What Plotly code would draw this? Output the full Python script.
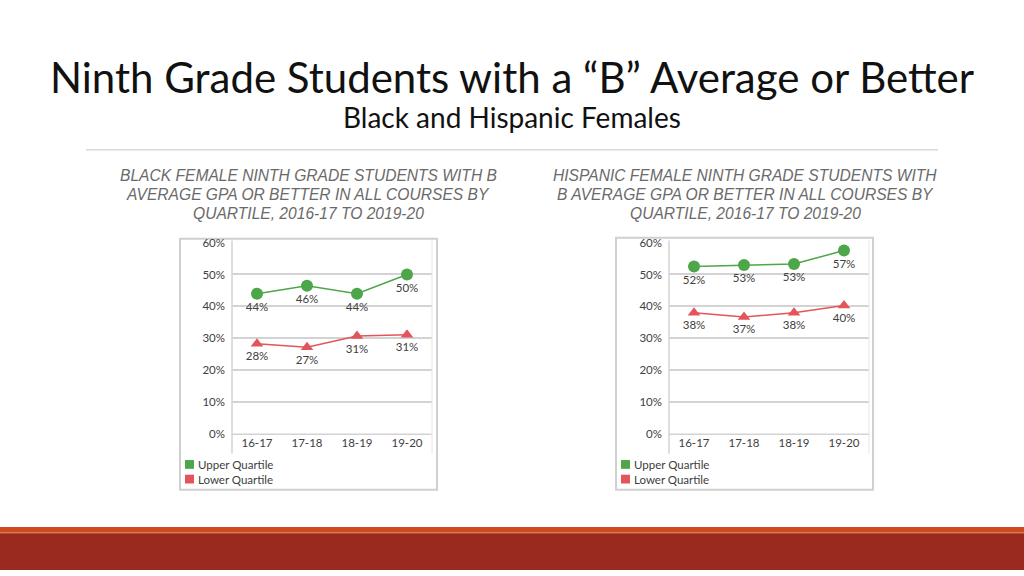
import plotly.graph_objects as go

# ---- data ----
years = ["16-17", "17-18", "18-19", "19-20"]
black_upper = [44.0, 46.5, 44.0, 50.0]
black_upper_labels = ["44%", "46%", "44%", "50%"]
black_lower = [28.3, 27.2, 30.7, 31.1]
black_lower_labels = ["28%", "27%", "31%", "31%"]
hisp_upper = [52.5, 53.0, 53.3, 57.5]
hisp_upper_labels = ["52%", "53%", "53%", "57%"]
hisp_lower = [38.0, 36.7, 38.0, 40.3]
hisp_lower_labels = ["38%", "37%", "38%", "40%"]
y_ticks = [0, 10, 20, 30, 40, 50, 60]
y_tick_labels = ["0%", "10%", "20%", "30%", "40%", "50%", "60%"]
series_names = ["Upper Quartile", "Lower Quartile"]

W, H = 1024, 576
FONT = "Lato"
CAPFONT = "Liberation Sans"
GREEN = "#4ea64a"
RED = "#e2555b"
GRID = "#d3d3d3"
TXT = "#404040"


def px(x):
    return x / W


def py(y):
    return 1 - y / H


fig = go.Figure()

panels = [
    dict(x="x", y="y", up=black_upper, upl=black_upper_labels, lo=black_lower, lol=black_lower_labels,
         dom=(232, 432), box=(180, 237, 437, 494),
         caption=["BLACK FEMALE NINTH GRADE STUDENTS WITH B", "AVERAGE GPA OR BETTER IN ALL COURSES BY",
                  "QUARTILE, 2016-17 TO 2019-20"],
         cx=308),
    dict(x="x2", y="y2", up=hisp_upper, upl=hisp_upper_labels, lo=hisp_lower, lol=hisp_lower_labels,
         dom=(669, 869), box=(616, 236, 873, 494),
         caption=["HISPANIC FEMALE NINTH GRADE STUDENTS WITH", "B AVERAGE GPA OR BETTER IN ALL COURSES BY",
                  "QUARTILE, 2016-17 TO 2019-20"],
         cx=745),
]

y_top, y_bot = 241, 437

for i, p in enumerate(panels):
    fig.add_trace(go.Scatter(
        x=years, y=p["up"], text=p["upl"], mode="lines+markers+text",
        textposition="bottom center", textfont=dict(family=FONT, size=11.5, color=TXT),
        line=dict(color=GREEN, width=1.5), marker=dict(symbol="circle", size=12, color=GREEN),
        xaxis=p["x"], yaxis=p["y"], showlegend=False, name=series_names[0], cliponaxis=False))
    fig.add_trace(go.Scatter(
        x=years, y=p["lo"], text=p["lol"], mode="lines+markers+text",
        textposition="bottom center", textfont=dict(family=FONT, size=11.5, color=TXT),
        line=dict(color=RED, width=1.5), marker=dict(symbol="triangle-up", size=11, color=RED),
        xaxis=p["x"], yaxis=p["y"], showlegend=False, name=series_names[1], cliponaxis=False))

    x0, y0, x1, y1 = p["box"]
    fig.add_shape(type="rect", xref="paper", yref="paper", x0=px(x0), x1=px(x1), y0=py(y0), y1=py(y1),
                  line=dict(color="#d0d0d0", width=2), fillcolor="rgba(0,0,0,0)", layer="below")
    fig.add_shape(type="line", xref="paper", yref="paper", x0=px(p["dom"][0]), x1=px(p["dom"][1]),
                  y0=py(y_bot), y1=py(y_bot), line=dict(color=GRID, width=1.5))
    fig.add_shape(type="line", xref="paper", yref="paper", x0=px(p["dom"][0]), x1=px(p["dom"][0]),
                  y0=py(y_top - 2), y1=py(457), line=dict(color=GRID, width=1.5))
    fig.add_shape(type="line", xref="paper", yref="paper", x0=px(p["dom"][1]), x1=px(p["dom"][1]),
                  y0=py(y_top - 2), y1=py(457), line=dict(color="#e6e6e6", width=1))
    for j, (nm, col) in enumerate(zip(series_names, [GREEN, RED])):
        yy = 468 + j * 15
        fig.add_shape(type="rect", xref="paper", yref="paper", x0=px(x0 + 5), x1=px(x0 + 14),
                      y0=py(yy - 4.5), y1=py(yy + 4.5), line=dict(width=0), fillcolor=col)
        fig.add_annotation(xref="paper", yref="paper", x=px(x0 + 16), y=py(yy), text=nm,
                           showarrow=False, xanchor="left", yanchor="middle",
                           font=dict(family=FONT, size=11.5, color=TXT))
    for k, line in enumerate(p["caption"]):
        fig.add_annotation(xref="paper", yref="paper", x=px(p["cx"]), y=py(172 + k * 19.5),
                           text="<i>" + line + "</i>",
                           showarrow=False, xanchor="center", yanchor="middle",
                           font=dict(family=CAPFONT, size=15.6, color="#6a6a6a"))

axis_common = dict(showline=False, zeroline=False, fixedrange=True)
fig.update_layout(
    width=W, height=H, margin=dict(l=0, r=0, t=0, b=0),
    paper_bgcolor="white", plot_bgcolor="white",
    font=dict(family=FONT, color=TXT),
    xaxis=dict(domain=[px(232), px(432)], range=[-0.5, 3.5], showgrid=False, anchor="y",
               tickfont=dict(size=11.5, color=TXT), ticks="", **axis_common),
    yaxis=dict(domain=[py(y_bot), py(y_top)], range=[0, 60], tickvals=y_ticks, ticktext=y_tick_labels,
               showgrid=True, gridcolor=GRID, gridwidth=1.5, anchor="x",
               tickfont=dict(size=11.5, color=TXT), ticks="", ticklabelstandoff=6, **axis_common),
    xaxis2=dict(domain=[px(669), px(869)], range=[-0.5, 3.5], showgrid=False, anchor="y2",
                tickfont=dict(size=11.5, color=TXT), ticks="", **axis_common),
    yaxis2=dict(domain=[py(y_bot), py(y_top)], range=[0, 60], tickvals=y_ticks, ticktext=y_tick_labels,
                showgrid=True, gridcolor=GRID, gridwidth=1.5, anchor="x2",
                tickfont=dict(size=11.5, color=TXT), ticks="", ticklabelstandoff=6, **axis_common),
)

fig.add_annotation(xref="paper", yref="paper", x=0.5, y=py(72), text="Ninth Grade Students with a “B” Average or Better",
                   showarrow=False, xanchor="center", yanchor="middle",
                   font=dict(family=FONT, size=42, color="#111111"))
fig.add_annotation(xref="paper", yref="paper", x=0.5, y=py(113), text="Black and Hispanic Females",
                   showarrow=False, xanchor="center", yanchor="middle",
                   font=dict(family=FONT, size=28, color="#111111"))
fig.add_shape(type="line", xref="paper", yref="paper", x0=px(86), x1=px(938), y0=py(146), y1=py(146),
              line=dict(color="#d9d9d9", width=1.5))
fig.add_shape(type="rect", xref="paper", yref="paper", x0=0, x1=1, y0=py(538), y1=py(532),
              line=dict(width=0), fillcolor="#cf4a1f")
fig.add_shape(type="rect", xref="paper", yref="paper", x0=0, x1=1, y0=0, y1=py(538),
              line=dict(width=0), fillcolor="#9a2a20")
fig.add_shape(type="line", xref="paper", yref="paper", x0=0, x1=1, y0=py(538), y1=py(538),
              line=dict(color="#e08a5a", width=1))

fig.write_html("out.html", config={"displayModeBar": False},
               post_script="document.body.style.margin='0';document.body.style.overflow='hidden';")
